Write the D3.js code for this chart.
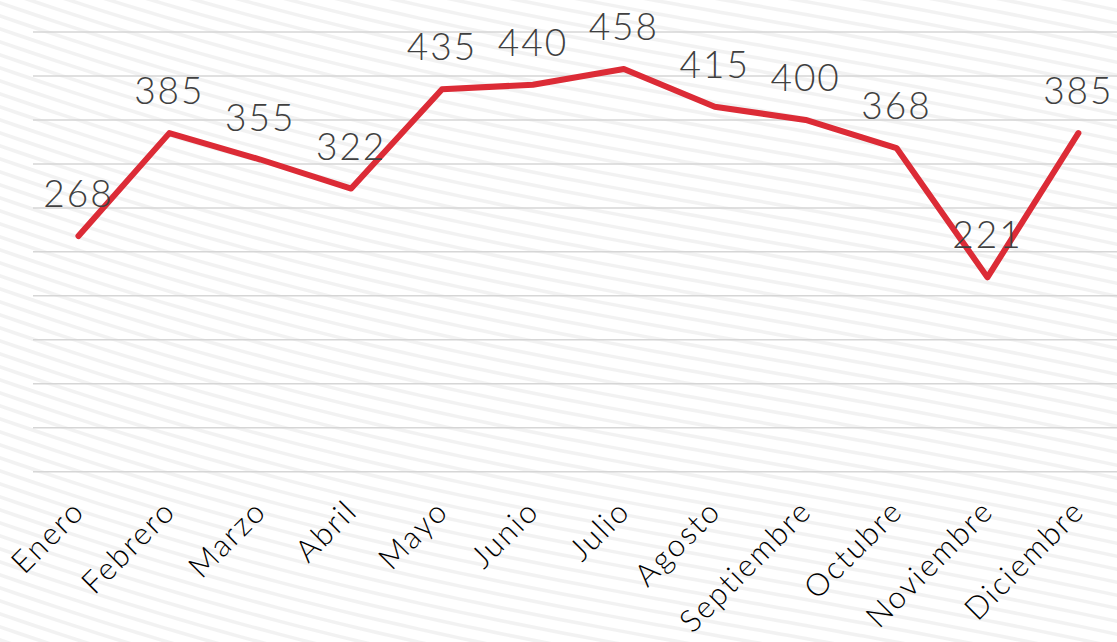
<!DOCTYPE html>
<html style="overflow:hidden;">
<head>
	<meta charset="utf-8">
	<script src="https://cdnjs.cloudflare.com/ajax/libs/d3/7.8.5/d3.min.js" charset="utf-8"></script>
	<style>
      body { margin:0; background:#fff; }
    </style>
</head>
<body>
<div id="chart"></div>
<script>
// data
var months = ["Enero","Febrero","Marzo","Abril","Mayo","Junio","Julio","Agosto","Septiembre","Octubre","Noviembre","Diciembre"];
var values = [268, 385, 355, 322, 435, 440, 458, 415, 400, 368, 221, 385];
var yTicks = [0, 50, 100, 150, 200, 250, 300, 350, 400, 450, 500];

var width = 1117, height = 642;
var margin = {top: 32, left: 33, bottom: 170};

var svg = d3.select("#chart").append("svg")
    .attr("width", width)
    .attr("height", height);

// faint wavy background stripes
var bg = svg.append("g").attr("opacity", 0.4);
for (var i = -40; i < 70; i++) {
  var pts = d3.range(-60, width + 60, 20).map(function(x) {
    return [x, i * 13 + x * 0.26 + 18 * Math.sin(x / 280 + 0.8) - 0.00004 * (x - 500) * (x - 500)];
  });
  bg.append("path")
    .attr("d", d3.line().curve(d3.curveBasis)(pts))
    .attr("fill", "none")
    .attr("stroke", "#e0e0e0")
    .attr("stroke-width", 3.5);
}

var x = d3.scaleBand()
    .domain(months)
    .range([margin.left, margin.left + 12 * 90.9]);

var y = d3.scaleLinear()
    .domain([0, 500])
    .range([471.7, margin.top]);

// gridlines
svg.append("g")
  .selectAll("line")
  .data(yTicks)
  .join("line")
    .attr("x1", margin.left)
    .attr("x2", width + 10)
    .attr("y1", function(d) { return y(d); })
    .attr("y2", function(d) { return y(d); })
    .attr("stroke", "#d6d6d6")
    .attr("stroke-width", 1.5);

// line
var line = d3.line()
    .x(function(d, i) { return x(months[i]) + x.bandwidth() / 2; })
    .y(function(d) { return y(d); });

svg.append("path")
    .datum(values)
    .attr("d", line)
    .attr("fill", "none")
    .attr("stroke", "#dc2b36")
    .attr("stroke-width", 6)
    .attr("stroke-linecap", "round")
    .attr("stroke-linejoin", "round");

// data labels
svg.append("g")
  .selectAll("text")
  .data(values)
  .join("text")
    .attr("x", function(d, i) { return x(months[i]) + x.bandwidth() / 2; })
    .attr("y", function(d) { return y(d) - 29; })
    .attr("text-anchor", "middle")
    .style("font-family", "Lato, sans-serif")
    .style("font-weight", 300)
    .style("font-size", "37px")
    .style("letter-spacing", "2px")
    .style("fill", "#404040")
    .text(function(d) { return d; });

// category labels
svg.append("g")
  .selectAll("text")
  .data(months)
  .join("text")
    .attr("transform", function(d) {
      return "translate(" + (x(d) + x.bandwidth() / 2 + 8) + ",513) rotate(-45)";
    })
    .attr("text-anchor", "end")
    .style("font-family", "Lato, sans-serif")
    .style("font-weight", 300)
    .style("font-size", "31px")
    .style("letter-spacing", "2px")
    .style("fill", "#000")
    .text(function(d) { return d; });
</script>
</body>
</html>
